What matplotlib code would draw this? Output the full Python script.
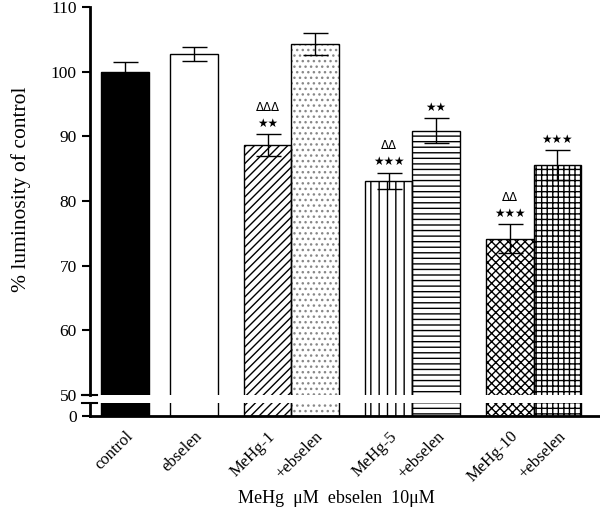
import matplotlib.pyplot as plt

plt.rcParams['font.family'] = ['Liberation Serif', 'DejaVu Sans']
plt.rcParams['hatch.linewidth'] = 1.0

# data
groups = ["control", "ebselen", "MeHg-1", "+ebselen", "MeHg-5", "+ebselen",
          "MeHg-10", "+ebselen"]
values = [100.0, 102.7, 88.6, 104.3, 83.1, 90.9, 74.2, 85.6]
errors = [1.5, 1.1, 1.7, 1.7, 1.3, 1.9, 2.3, 2.3]
positions = [0, 1.45, 3.0, 4.0, 5.55, 6.55, 8.1, 9.1]
colors = ["black", "white", "white", "white", "white", "white", "white", "white"]
hatches = [None, None, "////", "...", "||", "---", "xxxx", "+++"]
hatch_colors = ["black", "black", "black", "#888888", "black", "black",
                "black", "black"]
marks = ["", "", "ΔΔΔ\n★★", "", "ΔΔ\n★★★", "★★", "ΔΔ\n★★★", "★★★"]

fig = plt.figure(figsize=(6, 5.09), dpi=100)
ax = fig.add_axes([0.15, 0.224, 0.85, 0.762])
axl = fig.add_axes([0.15, 0.183, 0.85, 0.026])

for a in (ax, axl):
    # hatch layer first, then the black outline on top
    a.bar(positions, values, width=1.0, color=colors, edgecolor=hatch_colors,
          linewidth=0, hatch=hatches, zorder=2)
    a.bar(positions, values, width=1.0, fill=False, edgecolor="black",
          linewidth=1.0, zorder=2.5)
    a.set_xlim(-0.74, 10.0)
    for s in ("top", "right"):
        a.spines[s].set_visible(False)
    a.spines["left"].set_linewidth(2)
    a.tick_params(axis="y", direction="out", length=6, width=1.5,
                  labelsize=12.5)

ax.errorbar(positions, values, yerr=errors, fmt="none", ecolor="black",
            elinewidth=1.0, capsize=9, capthick=1.0, zorder=3)

ax.set_ylim(50, 110)
ax.set_yticks(range(50, 111, 10))
ax.spines["bottom"].set_visible(False)
ax.set_xticks([])

axl.set_ylim(0, 5)
axl.set_yticks([0])
axl.spines["bottom"].set_linewidth(2)
axl.set_xticks(positions)
axl.set_xticklabels(groups, rotation=45, ha="right", rotation_mode="anchor",
                    fontsize=12)
axl.tick_params(axis="x", length=0, pad=9)

# break marks on the y axis
ax.plot([-0.016, 0.014], [0, 0], transform=ax.transAxes, color="black",
        lw=1.5, clip_on=False)
axl.plot([-0.016, 0.014], [1, 1], transform=axl.transAxes, color="black",
         lw=1.5, clip_on=False)

for x, v, e, m in zip(positions, values, errors, marks):
    if m:
        ax.annotate(m, (x, v + e), xytext=(0, 3), textcoords="offset points",
                    ha="center", va="bottom", fontsize=8.5, linespacing=1.3,
                    family=["DejaVu Sans"])

ax.set_ylabel("% luminosity of control", fontsize=15.5)
ax.yaxis.set_label_coords(-0.115, 0.53)
fig.text(0.56, 0.012, "MeHg  μM  ebselen  10μM", ha="center", fontsize=13)

fig.savefig("out.png", dpi=100)
